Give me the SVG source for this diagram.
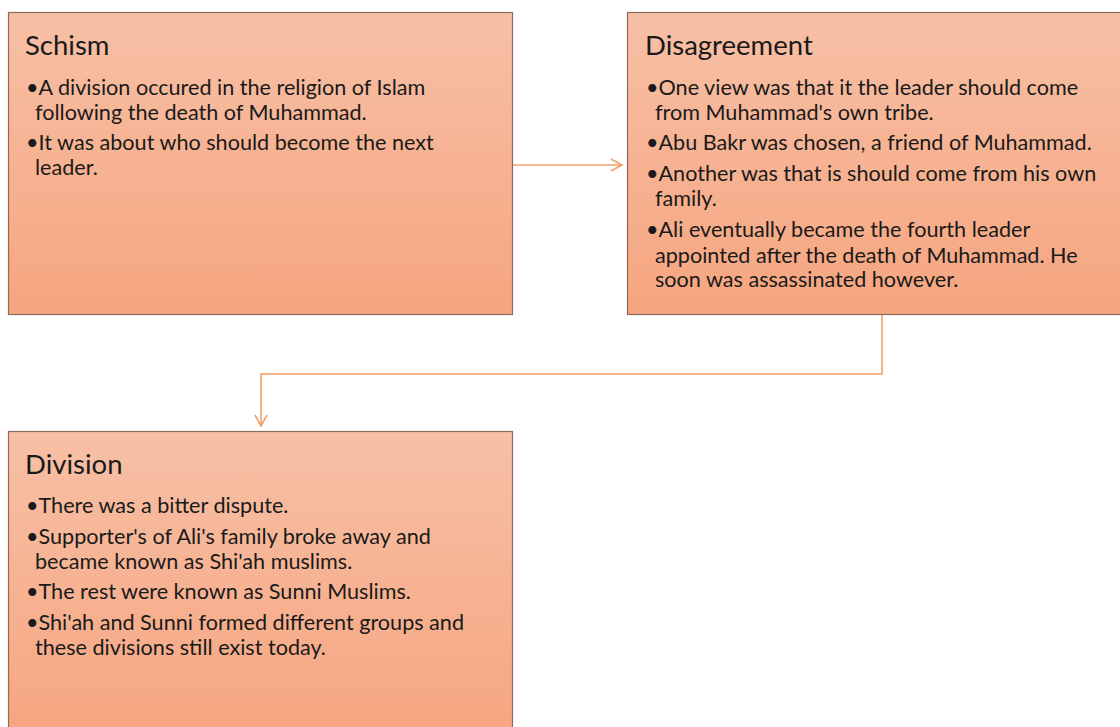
<svg xmlns="http://www.w3.org/2000/svg" width="1120" height="727" viewBox="0 0 1120 727">
<style>
.box{stroke:#8c6a5c;stroke-width:1.2;fill:url(#g)}
.t{font-family:Lato,"Open Sans",sans-serif;fill:#1a1a1a}
.h{font-size:27.5px}
.b{font-size:21.6px}
.c{fill:none;stroke:#F4A06A;stroke-width:1.6}
</style>
<defs>
<linearGradient id="g" x1="0" y1="0" x2="0" y2="1">
<stop offset="0" stop-color="#F7C0A6"/>
<stop offset="1" stop-color="#F6A57F"/>
</linearGradient>
<marker id="a" markerWidth="14" markerHeight="14" refX="12" refY="7" orient="auto" markerUnits="userSpaceOnUse">
<path d="M1,1 L12,7 L1,13" fill="none" stroke="#F4A06A" stroke-width="1.6"/>
</marker>
</defs>
<rect width="1120" height="727" fill="#fff"/>
<g id="connectors">
<path class="c" d="M513,165 H622" marker-end="url(#a)"/>
<path class="c" d="M882,315 V374 H261 V426" marker-end="url(#a)"/>
</g>
<g id="schism">
<rect class="box" x="8.5" y="12.5" width="504" height="302"/>
<text class="t h" x="25" y="55">Schism</text>
<text class="t b" x="26" y="95">•A division occured in the religion of Islam</text>
<text class="t b" x="35" y="120">following the death of Muhammad.</text>
<text class="t b" x="26" y="150">•It was about who should become the next</text>
<text class="t b" x="35" y="175">leader.</text>
</g>
<g id="disagreement">
<rect class="box" x="627.5" y="12.5" width="500" height="302"/>
<text class="t h" x="645" y="55">Disagreement</text>
<text class="t b" x="646" y="95">•One view was that it the leader should come</text>
<text class="t b" x="655" y="120">from Muhammad's own tribe.</text>
<text class="t b" x="646" y="150">•Abu Bakr was chosen, a friend of Muhammad.</text>
<text class="t b" x="646" y="181">•Another was that is should come from his own</text>
<text class="t b" x="655" y="206">family.</text>
<text class="t b" x="646" y="237">•Ali eventually became the fourth leader</text>
<text class="t b" x="655" y="263">appointed after the death of Muhammad. He</text>
<text class="t b" x="655" y="287">soon was assassinated however.</text>
</g>
<g id="division">
<rect class="box" x="8.5" y="431.5" width="504" height="310"/>
<text class="t h" x="25" y="474">Division</text>
<text class="t b" x="26" y="513">•There was a bitter dispute.</text>
<text class="t b" x="26" y="544">•Supporter's of Ali's family broke away and</text>
<text class="t b" x="35" y="569">became known as Shi'ah muslims.</text>
<text class="t b" x="26" y="599">•The rest were known as Sunni Muslims.</text>
<text class="t b" x="26" y="630">•Shi'ah and Sunni formed different groups and</text>
<text class="t b" x="35" y="655">these divisions still exist today.</text>
</g>
</svg>
